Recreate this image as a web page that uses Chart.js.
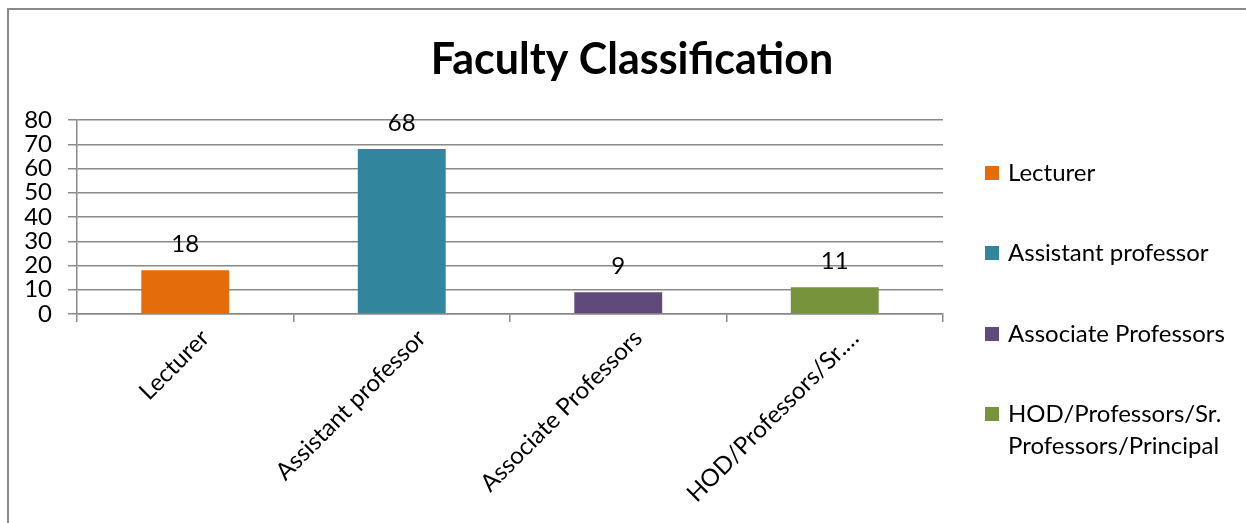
<!DOCTYPE html>
<html>
<head>
<meta charset="utf-8">
<script src="https://cdn.jsdelivr.net/npm/chart.js@4.4.1/dist/chart.umd.min.js"></script>
<style>
  html, body { margin: 0; padding: 0; background: #fff; }
  #wrap { position: relative; width: 1246px; height: 523px; }
  #frame { position: absolute; left: 7px; top: 8px; right: 0; bottom: 0;
           border-top: 2px solid #8a8a8a; border-left: 2px solid #8a8a8a; pointer-events: none; }
</style>
</head>
<body>
<div id="wrap">
  <canvas id="mycanvas" width="1246" height="523"></canvas>
  <div id="frame"></div>
</div>
<script>
var chartTitle = 'Faculty Classification';
var categories = ['Lecturer', 'Assistant professor', 'Associate Professors', 'HOD/Professors/Sr. Professors/Principal'];
var counts = [18, 68, 9, 11];
var barColors = ['#E46C0A', '#31859C', '#604A7B', '#77933C'];
var yTicks = [0, 10, 20, 30, 40, 50, 60, 70, 80];

var FONT = 'Lato, "Open Sans", sans-serif';

// title across the whole picture
var topTitle = {
  id: 'topTitle',
  afterDraw: function(chart) {
    var ctx = chart.ctx;
    ctx.save();
    ctx.font = 'bold 43px ' + FONT;
    ctx.fillStyle = '#000';
    ctx.textAlign = 'center';
    ctx.textBaseline = 'middle';
    ctx.fillText(chartTitle, 632, 60);
    ctx.restore();
  }
};

// value labels above each bar
var valueLabels = {
  id: 'valueLabels',
  afterDatasetsDraw: function(chart) {
    var ctx = chart.ctx;
    var meta = chart.getDatasetMeta(0);
    ctx.save();
    ctx.font = '24px ' + FONT;
    ctx.fillStyle = '#000';
    ctx.textAlign = 'center';
    ctx.textBaseline = 'middle';
    meta.data.forEach(function(bar, i) {
      ctx.fillText(String(counts[i]), bar.x, bar.y - 26);
    });
    ctx.restore();
  }
};

// legend on the right, one entry per category, wraps long names
var sideLegend = {
  id: 'sideLegend',
  afterDraw: function(chart) {
    var ctx = chart.ctx;
    var rowY = [173, 253, 334, 414];
    var maxW = 1246 - 1008 - 4;
    ctx.save();
    ctx.font = '24px ' + FONT;
    ctx.textAlign = 'left';
    ctx.textBaseline = 'middle';
    categories.forEach(function(name, i) {
      var y = rowY[i];
      ctx.fillStyle = barColors[i];
      ctx.fillRect(985, y - 7, 14, 14);
      ctx.fillStyle = '#000';
      var words = name.split(' ');
      var line = '';
      var lines = [];
      words.forEach(function(w) {
        var test = line ? line + ' ' + w : w;
        if (line && ctx.measureText(test).width > maxW) {
          lines.push(line);
          line = w;
        } else {
          line = test;
        }
      });
      lines.push(line);
      lines.forEach(function(l, k) {
        ctx.fillText(l, 1008, y + k * 32);
      });
    });
    ctx.restore();
  }
};

var ctx = document.getElementById('mycanvas');

var barGraph = new Chart(ctx, {
  type: 'bar',
  data: {
    labels: categories,
    datasets: [{
      label: 'Faculty',
      data: counts,
      backgroundColor: barColors,
      borderWidth: 0,
      categoryPercentage: 1,
      barPercentage: 0.406
    }]
  },
  options: {
    responsive: false,
    animation: false,
    layout: { padding: { left: 0, right: 303, top: 120, bottom: 0 } },
    plugins: {
      legend: { display: false },
      tooltip: { enabled: false },
      title: { display: false }
    },
    scales: {
      x: {
        grid: { offset: true, drawOnChartArea: false, tickLength: 8, color: '#8a8a8a', lineWidth: 1.5 },
        border: { color: '#8a8a8a', width: 1.5 },
        ticks: {
          color: '#000',
          font: { family: FONT, size: 24 },
          minRotation: 45,
          maxRotation: 45,
          padding: 2,
          labelOffset: 20,
          callback: function(v, i) {
            var s = categories[i];
            return s.length > 22 ? s.slice(0, 18) + '…' : s;
          }
        },
        afterFit: function(s) { s.height = 523 - 314; }
      },
      y: {
        min: 0,
        max: 80,
        afterBuildTicks: function(s) { s.ticks = yTicks.map(function(v) { return { value: v }; }); },
        grid: { color: '#8a8a8a', lineWidth: 1.5, tickLength: 9 },
        border: { color: '#8a8a8a', width: 1.5 },
        ticks: { color: '#000', font: { family: FONT, size: 24 }, padding: 16, autoSkip: false },
        afterFit: function(s) { s.width = 77; }
      }
    }
  },
  plugins: [topTitle, valueLabels, sideLegend]
});
</script>
</body>
</html>
